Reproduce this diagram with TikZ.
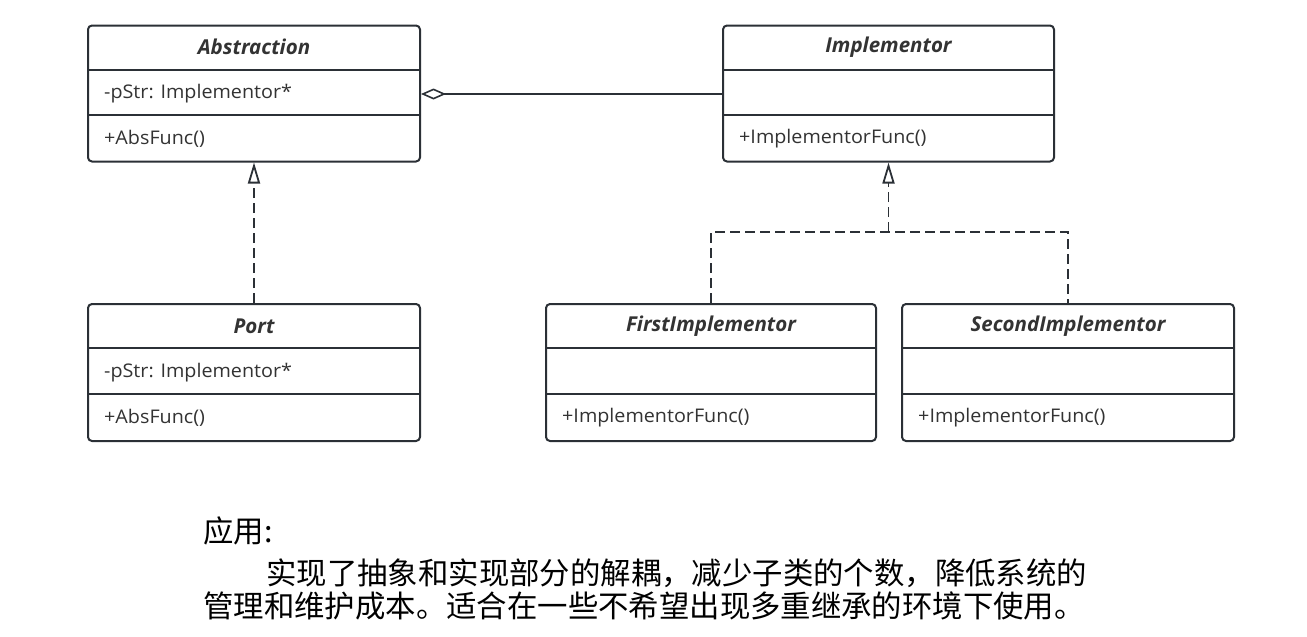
\documentclass[tikz,border=0pt]{standalone}
\usepackage{fontspec}
\setmainfont{Open Sans}
\newfontfamily\cjk{Noto Sans CJK SC}
\usetikzlibrary{arrows.meta,calc}
\definecolor{linec}{HTML}{2B3036}
\definecolor{textc}{HTML}{333333}
\begin{document}
\begin{tikzpicture}[x=1pt,y=-1pt,
  classbox/.style={draw=linec,line width=2pt,rounded corners=4pt,minimum width=332pt,minimum height=136pt,inner sep=0pt,fill=white},
  divider/.style={draw=linec,line width=2pt},
  ctitle/.style={font=\fontsize{20.5}{24}\selectfont\bfseries\itshape,text=textc,inner sep=0pt},
  cmember/.style={font=\addfontfeature{FakeStretch=1.05}\fontsize{18.8}{22}\selectfont,text=textc,anchor=west,inner sep=0pt},
  aggline/.style={draw=linec,line width=1.6pt,{Diamond[open,length=25pt,width=11pt,line width=1.6pt]}-},
  realline/.style={draw=linec,line width=1.8pt,dash pattern=on 10pt off 5pt,-{Triangle[open,length=21pt,width=12pt,line width=1.8pt]}},
  dashline/.style={draw=linec,line width=1.8pt,dash pattern=on 10pt off 5pt},
  cntext/.style={font=\cjk\fontsize{30.4}{34}\selectfont,text=black,anchor=west,inner sep=0pt}
]
\useasboundingbox (0,0) rectangle (1307,637);

% Abstraction
\node[classbox] (abs) at (254,93.5) {};
\draw[divider] ($(abs.north west)+(0,45)$) -- ($(abs.north east)+(0,45)$);
\draw[divider] ($(abs.north west)+(0,90)$) -- ($(abs.north east)+(0,90)$);
\node[ctitle] (abst) at (254,47) {Abstraction};
\node[cmember] (absa) at (104,94) {-pStr: Implementor*};
\node[cmember] (absm) at (104,139) {+AbsFunc()};

% Implementor
\node[classbox,minimum width=331pt] (impl) at (888.5,93.5) {};
\draw[divider] ($(impl.north west)+(0,45)$) -- ($(impl.north east)+(0,45)$);
\draw[divider] ($(impl.north west)+(0,90)$) -- ($(impl.north east)+(0,90)$);
\node[ctitle] (implt) at (888.5,47) {Implementor};
\node[cmember] (implm) at (739,139) {+ImplementorFunc()};

% Port
\node[classbox,minimum height=137pt] (port) at (254,372.5) {};
\draw[divider] ($(port.north west)+(0,45)$) -- ($(port.north east)+(0,45)$);
\draw[divider] ($(port.north west)+(0,91)$) -- ($(port.north east)+(0,91)$);
\node[ctitle] (portt) at (254,326) {Port};
\node[cmember] (porta) at (104,373) {-pStr: Implementor*};
\node[cmember] (portm) at (104,418) {+AbsFunc()};

% FirstImplementor
\node[classbox,minimum width=330pt,minimum height=137pt] (first) at (711,372.5) {};
\draw[divider] ($(first.north west)+(0,45)$) -- ($(first.north east)+(0,45)$);
\draw[divider] ($(first.north west)+(0,91)$) -- ($(first.north east)+(0,91)$);
\node[ctitle] (firstt) at (711,326) {FirstImplementor};
\node[cmember] (firstm) at (562,418) {+ImplementorFunc()};

% SecondImplementor
\node[classbox,minimum height=137pt] (second) at (1068,372.5) {};
\draw[divider] ($(second.north west)+(0,45)$) -- ($(second.north east)+(0,45)$);
\draw[divider] ($(second.north west)+(0,91)$) -- ($(second.north east)+(0,91)$);
\node[ctitle] (secondt) at (1068,326) {SecondImplementor};
\node[cmember] (secondm) at (918,418) {+ImplementorFunc()};

% Connectors
\draw[aggline] (abs.east |- absa) -- (impl.west |- absa);
\draw[realline] (port.north) -- (abs.south);
\coordinate (junc) at (888.5,232);
\draw[dashline] (first.north) |- (junc) -| (second.north);
\draw[realline] (junc) -- (impl.south);

% Text
\node[cntext] (t1) at (203,531) {应用:};
\node[cntext] (t2) at (266,573) {实现了抽象和实现部分的解耦，减少子类的个数，降低系统的};
\node[cntext] (t3) at (203,606) {管理和维护成本。适合在一些不希望出现多重继承的环境下使用。};
\end{tikzpicture}
\end{document}
